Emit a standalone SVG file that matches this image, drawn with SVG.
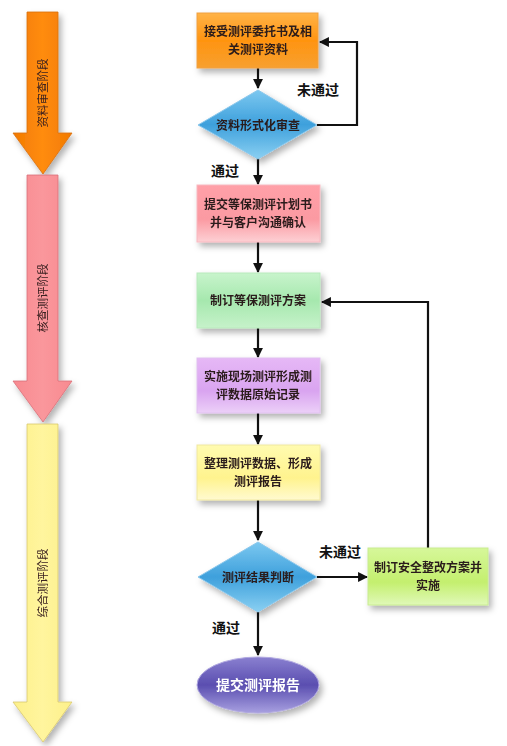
<svg xmlns="http://www.w3.org/2000/svg" width="507" height="746" viewBox="0 0 507 746">
<style>
text{font-family:"Noto Sans CJK SC","Noto Sans",sans-serif;}
.t{font-size:12px;fill:#2a1a1a;text-anchor:middle;font-weight:bold;}
.lab{font-size:14px;fill:#111;font-weight:bold;text-anchor:middle;}
.side{font-size:11.5px;fill:#3a2020;text-anchor:middle;}
.ln{stroke:#111;stroke-width:2.2;fill:none;}
.bx{stroke-width:1;}
</style>
<defs>
<filter id="sh" x="-20%" y="-20%" width="150%" height="160%"><feDropShadow dx="3" dy="4" stdDeviation="3" flood-color="#000" flood-opacity="0.3"/></filter>
<marker id="ah" viewBox="0 0 10 10" refX="9" refY="5" markerWidth="4.5" markerHeight="4.5" orient="auto"><path d="M0,0 L10,5 L0,10 z" fill="#111"/></marker>
<linearGradient id="gOr" x1="0" y1="0" x2="0" y2="1"><stop offset="0" stop-color="#ffb347"/><stop offset="0.5" stop-color="#ff9410"/><stop offset="1" stop-color="#f7a030"/></linearGradient>
<linearGradient id="gPk" x1="0" y1="0" x2="0" y2="1"><stop offset="0" stop-color="#ffa0a8"/><stop offset="0.6" stop-color="#fb9aa2"/><stop offset="1" stop-color="#fdd0d4"/></linearGradient>
<linearGradient id="gGr" x1="0" y1="0" x2="0" y2="1"><stop offset="0" stop-color="#c8f4cc"/><stop offset="0.5" stop-color="#a6e8ae"/><stop offset="1" stop-color="#c6f2ca"/></linearGradient>
<linearGradient id="gPu" x1="0" y1="0" x2="0" y2="1"><stop offset="0" stop-color="#e6b8f6"/><stop offset="0.6" stop-color="#d9a4f0"/><stop offset="1" stop-color="#ecd0f8"/></linearGradient>
<linearGradient id="gYe" x1="0" y1="0" x2="0" y2="1"><stop offset="0" stop-color="#fffbb0"/><stop offset="0.6" stop-color="#fff38e"/><stop offset="1" stop-color="#fffad0"/></linearGradient>
<linearGradient id="gLg" x1="0" y1="0" x2="0" y2="1"><stop offset="0" stop-color="#d6f79a"/><stop offset="0.6" stop-color="#c4ef6e"/><stop offset="1" stop-color="#e0f9b8"/></linearGradient>
<linearGradient id="gBl" x1="0" y1="0" x2="0" y2="1"><stop offset="0" stop-color="#7cc8f0"/><stop offset="0.5" stop-color="#3ea0dc"/><stop offset="1" stop-color="#8ad0f2"/></linearGradient>
<linearGradient id="gEl" x1="0" y1="0" x2="0" y2="1"><stop offset="0" stop-color="#8a80d0"/><stop offset="0.5" stop-color="#5a4eb0"/><stop offset="1" stop-color="#a8a0e0"/></linearGradient>
<linearGradient id="gA1" x1="0" y1="0" x2="1" y2="0"><stop offset="0" stop-color="#f27a00"/><stop offset="0.5" stop-color="#ff8c10"/><stop offset="1" stop-color="#f27a00"/></linearGradient>
<linearGradient id="gA2" x1="0" y1="0" x2="1" y2="0"><stop offset="0" stop-color="#f88a90"/><stop offset="0.5" stop-color="#fa979c"/><stop offset="1" stop-color="#f88a90"/></linearGradient>
<linearGradient id="gA3" x1="0" y1="0" x2="1" y2="0"><stop offset="0" stop-color="#fdf08a"/><stop offset="0.5" stop-color="#fff59e"/><stop offset="1" stop-color="#fdf08a"/></linearGradient>
</defs>
<rect width="507" height="746" fill="#fff"/>

<g id="stage1" filter="url(#sh)">
<path d="M27,12 H58 V133 H72 L43,174 L13,133 H27 Z" fill="url(#gA1)" stroke="#d87010" stroke-width="0.8"/>
<text class="side" transform="translate(47,93) rotate(-90)">资料审查阶段</text>
</g>
<g id="stage2" filter="url(#sh)">
<path d="M27,175 H58 V381 H72 L43,422 L13,381 H27 Z" fill="url(#gA2)" stroke="#d87078" stroke-width="0.8"/>
<text class="side" transform="translate(47,298) rotate(-90)">核查测评阶段</text>
</g>
<g id="stage3" filter="url(#sh)">
<path d="M27,424 H58 V702 H72 L43,742 L13,702 H27 Z" fill="url(#gA3)" stroke="#d8c870" stroke-width="0.8"/>
<text class="side" transform="translate(47,583) rotate(-90)">综合测评阶段</text>
</g>

<g id="connectors">
<line class="ln" x1="258" y1="68" x2="258" y2="88" marker-end="url(#ah)"/>
<polyline class="ln" points="317,125 357,125 357,42 320,42" marker-end="url(#ah)"/>
<line class="ln" x1="258" y1="158" x2="258" y2="184" marker-end="url(#ah)"/>
<line class="ln" x1="258" y1="242" x2="258" y2="272" marker-end="url(#ah)"/>
<line class="ln" x1="258" y1="328" x2="258" y2="357" marker-end="url(#ah)"/>
<line class="ln" x1="258" y1="413" x2="258" y2="444" marker-end="url(#ah)"/>
<line class="ln" x1="258" y1="500" x2="258" y2="540" marker-end="url(#ah)"/>
<line class="ln" x1="317" y1="577" x2="367" y2="577" marker-end="url(#ah)"/>
<polyline class="ln" points="428,548 428,302 322,302" marker-end="url(#ah)"/>
<line class="ln" x1="258" y1="612" x2="258" y2="655" marker-end="url(#ah)"/>
<text class="lab" x="318" y="95">未通过</text>
<text class="lab" x="225" y="176">通过</text>
<text class="lab" x="340" y="557">未通过</text>
<text class="lab" x="226" y="633">通过</text>
</g>

<g id="n1" filter="url(#sh)">
<rect class="bx" x="197" y="13" width="121" height="55" fill="url(#gOr)" stroke="#f0a040"/>
<text class="t" x="258" y="36">接受测评委托书及相</text>
<text class="t" x="258" y="54">关测评资料</text>
</g>
<g id="d1" filter="url(#sh)">
<path d="M258,90 L317,125 L258,159 L198,125 Z" fill="url(#gBl)" stroke="#8cc8ec"/>
<text class="t" x="258" y="130" fill="#1a2a40">资料形式化审查</text>
</g>
<g id="n2" filter="url(#sh)">
<rect class="bx" x="197" y="185" width="123" height="57" fill="url(#gPk)" stroke="#f8b8c0"/>
<text class="t" x="258" y="209">提交等保测评计划书</text>
<text class="t" x="258" y="227">并与客户沟通确认</text>
</g>
<g id="n3" filter="url(#sh)">
<rect class="bx" x="197" y="273" width="123" height="55" fill="url(#gGr)" stroke="#b8eabc"/>
<text class="t" x="258" y="305">制订等保测评方案</text>
</g>
<g id="n4" filter="url(#sh)">
<rect class="bx" x="197" y="358" width="123" height="55" fill="url(#gPu)" stroke="#e0c0f0"/>
<text class="t" x="258" y="381">实施现场测评形成测</text>
<text class="t" x="258" y="399">评数据原始记录</text>
</g>
<g id="n5" filter="url(#sh)">
<rect class="bx" x="197" y="445" width="123" height="55" fill="url(#gYe)" stroke="#f0e8a0"/>
<text class="t" x="258" y="468">整理测评数据、形成</text>
<text class="t" x="258" y="486">测评报告</text>
</g>
<g id="d2" filter="url(#sh)">
<path d="M258,542 L317,577 L258,612 L198,577 Z" fill="url(#gBl)" stroke="#8cc8ec"/>
<text class="t" x="258" y="582" fill="#1a2a40">测评结果判断</text>
</g>
<g id="n6" filter="url(#sh)">
<rect class="bx" x="368" y="548" width="120" height="57" fill="url(#gLg)" stroke="#c8ec90"/>
<text class="t" x="428" y="572">制订安全整改方案并</text>
<text class="t" x="428" y="590">实施</text>
</g>
<g id="n7" filter="url(#sh)">
<ellipse cx="258" cy="685" rx="61" ry="28" fill="url(#gEl)" stroke="#b0a8e0"/>
<text x="258" y="690" font-size="14" font-weight="bold" fill="#fff" text-anchor="middle">提交测评报告</text>
</g>
</svg>
